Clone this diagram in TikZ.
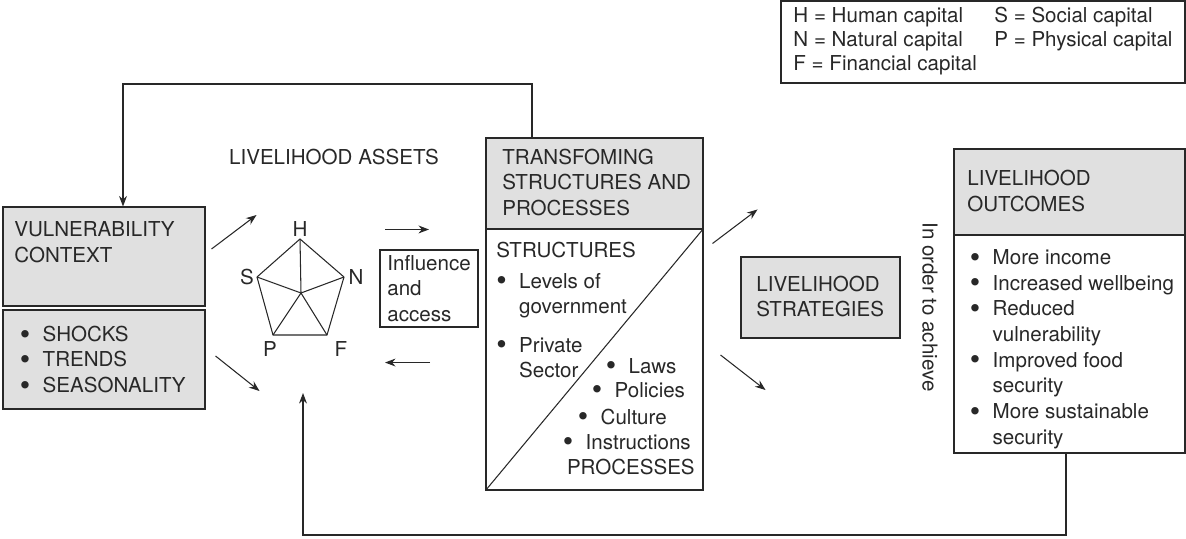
\documentclass[tikz,border=0pt]{standalone}
\usepackage{fontspec}
\usepackage{graphicx}
\setmainfont{TeX Gyre Heros}
\usetikzlibrary{arrows.meta}

\definecolor{boxgray}{RGB}{224,224,224}
\definecolor{ink}{RGB}{40,40,40}

\newcommand\dfont{\fontsize{11.7}{14.6}\selectfont}
\newcommand\bl{\makebox[13pt][l]{\smash{\raisebox{-0.14em}{\scalebox{1.45}{\textbullet}}}}}
\newcommand\ind{\hspace*{13pt}}

\tikzset{
  px/.style 2 args={minimum width=#1*0.02cm, minimum height=#2*0.02cm},
  box/.style={draw=ink, line width=0.6pt, inner sep=0pt, fill=white},
  graybox/.style={box, fill=boxgray},
  lbl/.style={inner sep=0pt, anchor=base west, align=left, text=ink, font=\dfont},
  wire/.style={draw=ink, line width=0.6pt},
  arr/.style={wire, -{Stealth[length=6pt,width=4.5pt]}},
}

\begin{document}
\begin{tikzpicture}[x=0.02cm, y=-0.02cm]

\path [use as bounding box] (0,0) rectangle (1186,538);

% BOXES
\node [box, px={404}{82}, text=ink, font=\fontsize{11.7}{13.6}\selectfont] (legend) at (983,42)
  {\begin{tabular}{@{}l@{\hspace{10pt}}l@{}}
   H = Human capital & S = Social capital\\
   N = Natural capital & P = Physical capital\\
   F = Financial capital &
   \end{tabular}};
\node [graybox, px={202}{99}] (vc) at (104,256.5) {};
\node [graybox, px={202}{99}] (vs) at (104,359.5) {};
\node [box, px={98}{77}] (inf) at (429,288.5) {};
\node [graybox, px={217}{91}] (tsh) at (594.5,183.5) {};
\node [box, px={217}{261}] (tsl) at (594.5,359.5) {};
\node [graybox, px={159}{81}] (strat) at (820.5,297.5) {};
\node [graybox, px={231}{86}] (oh) at (1069.5,192) {};
\node [box, px={231}{218}] (ol) at (1069.5,344) {};

% DIAGONAL SPLIT
\draw [wire] (tsl.south west) -- (tsl.north east);

% ASSET PENTAGON
\coordinate (pH) at (300,239);
\coordinate (pN) at (344,277);
\coordinate (pF) at (327,335);
\coordinate (pP) at (273,335);
\coordinate (pS) at (257,277);
\coordinate (pC) at (301,293);
\draw [wire, line join=round] (pH) -- (pN) -- (pF) -- (pP) -- (pS) -- cycle;
\foreach \v in {pH,pN,pF,pP,pS}
  \draw [wire] (pC) -- (\v);
\node [lbl, anchor=center] (lH) at (300,229) {H};
\node [lbl, anchor=center] (lS) at (247,277) {S};
\node [lbl, anchor=center] (lN) at (356,277) {N};
\node [lbl, anchor=center] (lP) at (270,349) {P};
\node [lbl, anchor=center] (lF) at (341,349) {F};

% TEXT (multi-line nodes sit on the baseline of their last line)
\node [lbl, anchor=base] (assets) at (334,164) {LIVELIHOOD ASSETS};
\node [lbl] (vcT) at (14,262) {VULNERABILITY\\CONTEXT};
\node [lbl] (vsT) at (19.5,392.5) {\bl SHOCKS\\\bl TRENDS\\\bl SEASONALITY};
\node [lbl] (infT) at (387,321.5) {Influence\\and\\access};
\node [lbl] (tshT) at (502,215.5) {TRANSFOMING\\STRUCTURES AND\\PROCESSES};
\node [lbl] (stT) at (496,257) {STRUCTURES};
\node [lbl] (stA) at (496,313.75) {\bl Levels of\\\ind government};
\node [lbl] (stB) at (496,377.75) {\bl Private\\\ind Sector};
\foreach \x/\y/\t [count=\i] in {605.5/373/Laws, 591.5/397/Policies, 577.5/424/Culture, 562.5/449/Instructions}
  \node [lbl] (pr\i) at (\x,\y) {\bl \t};
\node [lbl, anchor=base east] (prT) at (695,474) {PROCESSES};
\node [lbl] (strT) at (756,316.75) {LIVELIHOOD\\STRATEGIES};
\node [lbl, anchor=center, rotate=-90] (achieve) at (930,307) {In order to achieve};
\node [lbl] (ohT) at (967,211) {LIVELIHOOD\\OUTCOMES};
\node [lbl] (olT) at (969.5,444) {\bl More income\\\bl Increased wellbeing\\\bl Reduced\\\ind vulnerability\\\bl Improved food\\\ind security\\\bl More sustainable\\\ind security};

% ARROWS
\draw [arr] ([shift={(6,-7.5)}]vc.east) -- ++(45,-34);
\draw [arr] ([shift={(10,-3.5)}]vs.east) -- ++(44,35);
\draw [arr] ([shift={(-44,-20)}]inf.north) -- ++(44,0);
\draw [arr] ([shift={(1,35)}]inf.south) -- ++(-45,0);
\draw [arr] ([shift={(9,15)}]tsl.north east) -- ++(45,-34);
\draw [arr] ([shift={(17,-4.5)}]tsl.east) -- ++(45,35);

% FEEDBACK
\coordinate (tsUp) at (532,84);
\coordinate (fbT) at (123,84);
\draw [arr] (tsh.north -| tsUp) -- (tsUp) -- (fbT) -- (fbT |- vc.north);
\coordinate (olDn) at (1066,535);
\coordinate (fbB) at (303,535);
\coordinate (assetIn) at (303,393);
\draw [arr] (ol.south -| olDn) -- (olDn) -- (fbB) -- (assetIn);

\end{tikzpicture}
\end{document}
